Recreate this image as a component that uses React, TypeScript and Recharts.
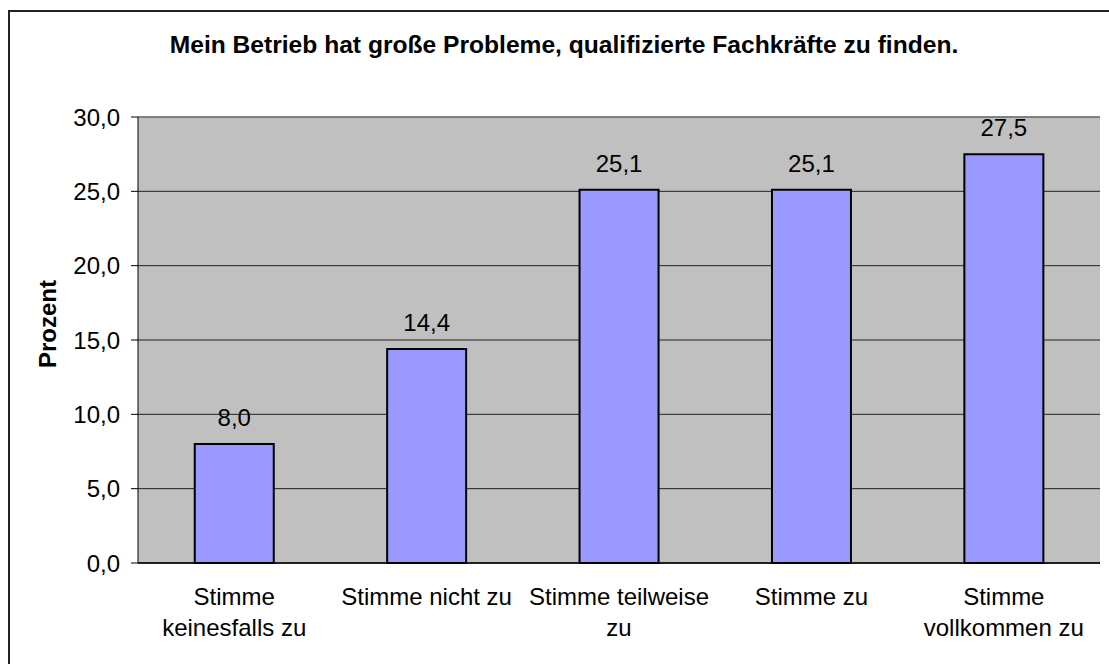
import React from 'react';
import { BarChart, Bar, XAxis, YAxis, CartesianGrid, LabelList, ReferenceLine } from 'recharts';

const categories = [
  'Stimme\nkeinesfalls zu',
  'Stimme nicht zu',
  'Stimme teilweise\nzu',
  'Stimme zu',
  'Stimme\nvollkommen zu',
];
const values = [8.0, 14.4, 25.1, 25.1, 27.5];
const yTicks = [0, 5, 10, 15, 20, 25, 30];
const edgeTicks = [0, 1, 2, 3, 4, 5];
const title = 'Mein Betrieb hat große Probleme, qualifizierte Fachkräfte zu finden.';
const yLabel = 'Prozent';

const data = categories.map((c, i) => ({ cat: c, value: values[i] }));
const FONT = '"Liberation Sans", Arial, sans-serif';
const fmt = (v: number) => v.toFixed(1).replace('.', ',');

const CatTick = (props: any) => {
  const { x, y, payload } = props;
  const lines = String(payload.value).split('\n');
  return (
    <text x={x} y={y} textAnchor="middle" fontFamily={FONT} fontSize={24} fill="#000">
      {lines.map((l, i) => (
        <tspan key={i} x={x} y={y + 42 + i * 31}>{l}</tspan>
      ))}
    </text>
  );
};

export default function App() {
  return (
    <div style={{ position: 'absolute', left: 0, top: 0, width: 1109, height: 664, overflow: 'hidden', background: '#fff' }}>
      <div style={{ position: 'absolute', left: 8, top: 10, width: 1110, height: 670, border: '2px solid #222', boxSizing: 'border-box' }} />
      <div style={{ position: 'absolute', left: 0, top: 0 }}>
        <BarChart
          width={1109}
          height={664}
          data={data}
          margin={{ top: 117, right: 9, bottom: 11, left: 0 }}
          barCategoryGap="29.5%"
        >
          <text x={564} y={53} textAnchor="middle" fontFamily={FONT} fontSize={24.6} fontWeight="bold" fill="#000">
            {title}
          </text>
          <text
            x={0}
            y={0}
            transform="translate(56, 324) rotate(-90)"
            textAnchor="middle"
            fontFamily={FONT}
            fontSize={24}
            fontWeight="bold"
            fill="#000"
          >
            {yLabel}
          </text>
          <CartesianGrid vertical={false} stroke="#222" fill="#C0C0C0" fillOpacity={1} />
          <XAxis
            xAxisId="edges"
            type="number"
            domain={[0, 5]}
            ticks={edgeTicks}
            allowDataOverflow
            axisLine={false}
            tickSize={7}
            tickLine={{ stroke: '#333' }}
            tickFormatter={() => ''}
            height={0}
          />
          <XAxis
            dataKey="cat"
            interval={0}
            tickLine={false}
            tickSize={0}
            tickMargin={0}
            axisLine={{ stroke: '#000', strokeWidth: 1.5 }}
            tick={<CatTick />}
            height={90}
          />
          <YAxis
            domain={[0, 30]}
            ticks={yTicks}
            width={138}
            tickSize={7}
            tickMargin={11}
            tickLine={{ stroke: '#000' }}
            axisLine={{ stroke: '#000' }}
            tickFormatter={fmt}
            tick={{ fontFamily: FONT, fontSize: 24, fill: '#000' }}
          />
          <YAxis
            yAxisId="right"
            orientation="right"
            domain={[0, 30]}
            width={0}
            tick={false}
            tickLine={false}
            axisLine={{ stroke: '#808080', strokeWidth: 1.5 }}
          />
          <ReferenceLine y={30} stroke="#808080" strokeWidth={1.5} />
          <Bar dataKey="value" fill="#9999FF" stroke="#000" strokeWidth={2} isAnimationActive={false}>
            <LabelList
              dataKey="value"
              position="top"
              offset={18}
              formatter={(v: any) => fmt(Number(v))}
              style={{ fontFamily: FONT, fontSize: 24, fill: '#000' }}
            />
          </Bar>
        </BarChart>
      </div>
    </div>
  );
}
